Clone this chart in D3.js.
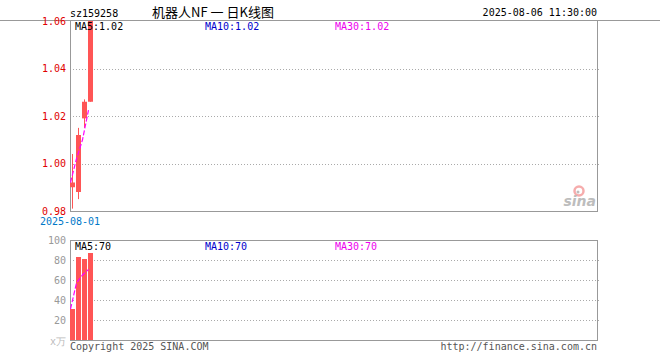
<!DOCTYPE html>
<html><head><meta charset="utf-8">
<script src="https://cdn.jsdelivr.net/npm/d3@7/dist/d3.min.js"></script>
<style>body{margin:0;background:#fff}svg{display:block}text{font-family:"DejaVu Sans Mono",monospace}</style>
</head><body><svg id="c" width="660" height="360"></svg>
<script>
const dates = ["2025-08-01","2025-08-04","2025-08-05","2025-08-06"];
const open  = [0.990, 0.988, 1.019, 1.026];
const close = [0.992, 1.012, 1.026, 1.060];
const high  = [1.004, 1.015, 1.027, 1.060];
const low   = [0.981, 0.985, 1.015, 1.026];
const volume = [31, 83, 81, 87];
const priceTicks = [0.98, 1.00, 1.02, 1.04, 1.06];
const volTicks = [20, 40, 60, 80, 100];

const svg = d3.select("#c");
const L = 70, R = 597, pT = 20, pB = 211, vT = 240, vB = 340;
const x = d3.scaleLinear().domain([0, 88]).range([L, L + 528]);
const y = d3.scaleLinear().domain([0.98, 1.06]).range([pB, pT + 1]);
const yv = d3.scaleLinear().domain([0, 100]).range([vB, vT]);
const bw = 5;
const red = "#ff5555";

function ma(arr){ return arr.map((_, i) => { const s = arr.slice(Math.max(0, i-4), i+1); return d3.mean(s); }); }
const maP = ma(close), maV = ma(volume);

// grids
const gP = svg.append("g");
gP.selectAll("line").data([1.00, 1.02, 1.04]).join("line")
  .attr("x1", L).attr("x2", R + 2).attr("y1", d => Math.round(y(d)) + 0.5).attr("y2", d => Math.round(y(d)) + 0.5)
  .attr("stroke", "#aaa").attr("stroke-dasharray", "1,2");
svg.append("g").selectAll("line").data([20, 40, 60, 80]).join("line")
  .attr("x1", L).attr("x2", R + 2).attr("y1", d => Math.round(yv(d)) + 0.5).attr("y2", d => Math.round(yv(d)) + 0.5)
  .attr("stroke", "#aaa").attr("stroke-dasharray", "1,2");

// borders
svg.append("line").attr("x1", 0).attr("x2", 660).attr("y1", pT + 0.5).attr("y2", pT + 0.5).attr("stroke", "#999");
svg.append("rect").attr("x", L + 0.5).attr("y", pT + 0.5).attr("width", R - L).attr("height", pB - pT).attr("fill", "none").attr("stroke", "#999");
svg.append("rect").attr("x", L + 0.5).attr("y", vT + 0.5).attr("width", R - L).attr("height", vB - vT).attr("fill", "none").attr("stroke", "#999");

// candles
const idx = d3.range(dates.length);
svg.append("g").selectAll("line").data(idx).join("line")
  .attr("x1", i => x(i) + 2.5).attr("x2", i => x(i) + 2.5)
  .attr("y1", i => y(high[i])).attr("y2", i => y(low[i]))
  .attr("stroke", red).attr("stroke-width", 1);
svg.append("g").selectAll("rect").data(idx).join("rect")
  .attr("x", i => x(i)).attr("width", bw)
  .attr("y", i => y(Math.max(open[i], close[i])))
  .attr("height", i => Math.max(1, y(Math.min(open[i], close[i])) - y(Math.max(open[i], close[i]))))
  .attr("fill", red);

// volume bars
svg.append("g").selectAll("rect").data(idx).join("rect")
  .attr("x", i => x(i)).attr("width", bw)
  .attr("y", i => yv(volume[i])).attr("height", i => vB - yv(volume[i]))
  .attr("fill", red);

// MA lines
const lp = d3.line().x(i => x(i) + 0.5).y(i => y(maP[i]));
const lv = d3.line().x(i => x(i) + 0.5).y(i => yv(maV[i]));
svg.append("path").attr("d", lp(idx)).attr("fill", "none").attr("stroke", "#ff00ff").attr("stroke-width", 1.2).attr("stroke-dasharray", "5,2");
svg.append("path").attr("d", lv(idx)).attr("fill", "none").attr("stroke", "#ff00ff").attr("stroke-width", 1.2).attr("stroke-dasharray", "5,2");

// axis labels
svg.append("g").selectAll("text").data(priceTicks).join("text")
  .attr("x", 66).attr("y", d => y(d)).attr("dy", "0.35em").attr("text-anchor", "end")
  .attr("font-size", 10).attr("fill", "#e00000").text(d => d.toFixed(2));
svg.append("g").selectAll("text").data(volTicks).join("text")
  .attr("x", 66).attr("y", d => yv(d)).attr("dy", "0.35em").attr("text-anchor", "end")
  .attr("font-size", 10).attr("fill", "#999").text(d => d);
svg.append("text").attr("x", 66).attr("y", 341).attr("dy", "0.35em").attr("text-anchor", "end")
  .attr("font-size", 10).attr("fill", "#bbb").text("x万");

svg.append("text").attr("x", x(0)).attr("y", 221).attr("dy", "0.35em").attr("text-anchor", "middle")
  .attr("font-size", 10).attr("fill", "#0078c8").text(dates[0]);

// header
svg.append("text").attr("x", 70).attr("y", 13).attr("dy", "0.35em").attr("font-size", 10).attr("fill", "#000").text("sz159258");
svg.append("text").attr("x", 213).attr("y", 12).attr("dy", "0.35em").attr("text-anchor", "middle")
  .attr("font-size", 13).attr("fill", "#000").style("font-family", "'Noto Sans CJK SC', sans-serif").text("机器人NF 一 日K线图");
svg.append("text").attr("x", 597).attr("y", 12).attr("dy", "0.35em").attr("text-anchor", "end").attr("font-size", 10).attr("fill", "#000").text("2025-08-06 11:30:00");

// MA legends
const f2 = d => d.toFixed(2);
const lastP = maP[maP.length - 1], lastV = maV[maV.length - 1];
const legP = [["MA5:" + f2(lastP), "#000", 75], ["MA10:" + f2(lastP), "#0000cc", 205], ["MA30:" + f2(lastP), "#ee00ee", 335]];
const legV = [["MA5:" + Math.floor(lastV), "#000", 75], ["MA10:" + Math.floor(lastV), "#0000cc", 205], ["MA30:" + Math.floor(lastV), "#ee00ee", 335]];
svg.append("g").selectAll("text").data(legP).join("text").attr("x", d => d[2]).attr("y", 26).attr("dy", "0.35em")
  .attr("font-size", 10).attr("fill", d => d[1]).text(d => d[0]);
svg.append("g").selectAll("text").data(legV).join("text").attr("x", d => d[2]).attr("y", 246).attr("dy", "0.35em")
  .attr("font-size", 10).attr("fill", d => d[1]).text(d => d[0]);

// footer
svg.append("text").attr("x", 70).attr("y", 346).attr("dy", "0.35em").attr("font-size", 10).attr("fill", "#555").text("Copyright 2025 SINA.COM");
svg.append("text").attr("x", 597).attr("y", 346).attr("dy", "0.35em").attr("text-anchor", "end").attr("font-size", 10).attr("fill", "#555").text("http://finance.sina.com.cn");

// sina logo
const lg = svg.append("g").attr("opacity", 0.55);
lg.append("circle").attr("cx", 579).attr("cy", 191).attr("r", 4.5).attr("fill", "none").attr("stroke", "#f06a6a").attr("stroke-width", 2.5);
lg.append("circle").attr("cx", 578).attr("cy", 192).attr("r", 1.5).attr("fill", "#888");
lg.append("text").attr("x", 596).attr("y", 206).attr("text-anchor", "end").attr("font-size", 14).attr("font-weight", "bold")
  .attr("font-style", "italic").attr("fill", "#888").style("font-family", "'DejaVu Sans', sans-serif").text("sina");
</script></body></html>
